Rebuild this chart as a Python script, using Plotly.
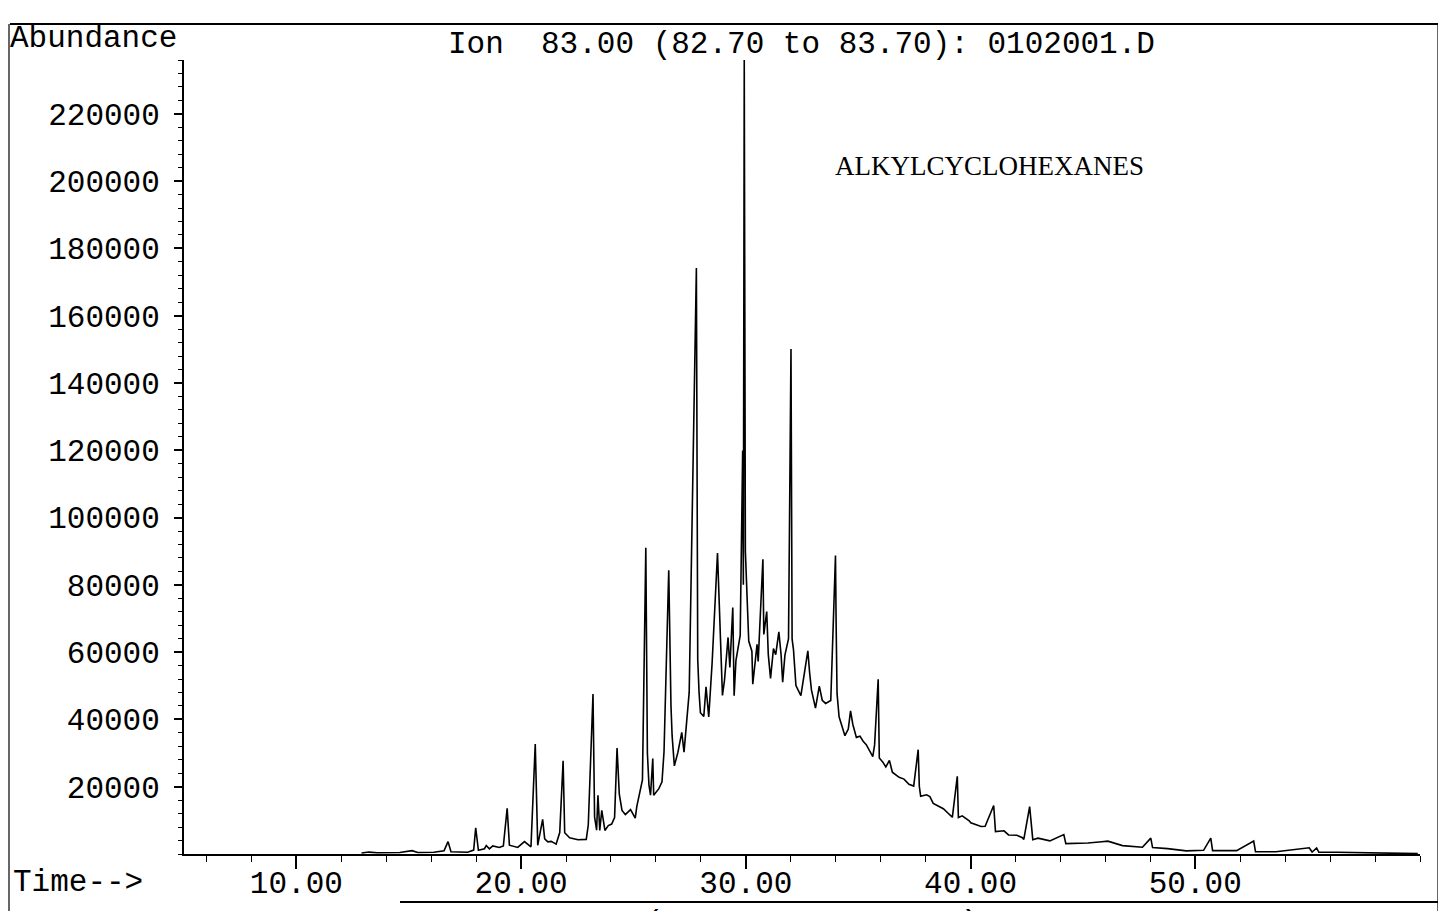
import plotly.graph_objects as go

# ---------------- data ----------------
time_min = [
    12.90, 13.23, 13.60, 14.06, 14.60, 15.15, 15.40, 16.12, 16.57, 16.75, 16.88,
    17.62, 17.89, 17.98, 18.10, 18.37, 18.45, 18.59, 18.74, 19.03, 19.21, 19.38,
    19.48, 19.85, 20.15, 20.44, 20.63, 20.74, 20.96, 21.05, 21.19, 21.34, 21.56,
    21.72, 21.87, 21.94, 22.16, 22.53, 22.90, 22.99, 23.20, 23.27, 23.36, 23.42,
    23.50, 23.59, 23.73, 23.88, 24.03, 24.16, 24.27, 24.37, 24.49, 24.64, 24.87,
    25.08, 25.15, 25.40, 25.55, 25.62, 25.69, 25.76, 25.86, 25.90, 26.13, 26.27,
    26.36, 26.57, 26.62, 26.67, 26.72, 26.82, 26.98, 27.15, 27.25, 27.38, 27.48,
    27.80, 27.86, 27.92, 27.98, 28.13, 28.23, 28.35, 28.50, 28.74, 28.82, 28.90,
    28.96, 29.05, 29.21, 29.29, 29.42, 29.48, 29.56, 29.75, 29.86, 29.89, 29.93,
    29.98, 30.05, 30.13, 30.27, 30.31, 30.50, 30.55, 30.76, 30.80, 30.93, 31.00,
    31.10, 31.23, 31.33, 31.47, 31.57, 31.64, 31.74, 31.90, 32.01, 32.06, 32.12,
    32.18, 32.23, 32.45, 32.61, 32.76, 32.84, 32.92, 33.10, 33.27, 33.40, 33.55,
    33.78, 33.86, 33.99, 34.02, 34.06, 34.15, 34.27, 34.41, 34.56, 34.66, 34.76,
    34.92, 35.08, 35.22, 35.36, 35.51, 35.65, 35.73, 35.89, 35.94, 36.09, 36.23,
    36.39, 36.52, 36.82, 37.04, 37.26, 37.47, 37.67, 37.72, 37.78, 38.04, 38.19,
    38.34, 38.67, 38.79, 39.19, 39.41, 39.46, 39.63, 39.94, 40.01, 40.47, 40.65,
    41.03, 41.11, 41.49, 41.69, 42.06, 42.31, 42.37, 42.63, 42.77, 43.00, 43.53,
    44.15, 44.24, 44.53, 45.22, 45.84, 46.11, 46.76, 47.65, 48.02, 48.10, 48.77,
    49.60, 50.37, 50.69, 50.77, 51.84, 52.60, 52.68, 53.59, 55.07, 55.20, 55.40,
    55.50, 56.33, 59.90,
]

abundance = [
    300, 570, 350, 320, 450, 1000, 450, 510, 930, 3670, 660,
    520, 1150, 7800, 1110, 1570, 2530, 1520, 2390, 1940, 2380, 13580,
    2630, 1960, 3690, 2140, 32700, 2590, 10290, 4530, 3620, 3760, 2940,
    6360, 27680, 6330, 4790, 4240, 4350, 8620, 47580, 11030, 7060, 17460,
    7030, 12960, 6990, 8440, 8890, 10860, 31470, 17760, 12950, 11750, 13200,
    10680, 14150, 22000, 91000, 30000, 20480, 17490, 28390, 17460, 19410, 21460,
    30380, 84330, 60110, 44030, 35170, 26210, 30260, 36180, 30270, 40010, 48030,
    174140, 57810, 47960, 41980, 40850, 49670, 40710, 56760, 89470, 72490, 59670,
    47150, 51600, 64370, 55420, 73260, 47070, 57460, 65000, 119930, 80000, 236000,
    90000, 75230, 63300, 60290, 50460, 62330, 57260, 87590, 65250, 72080, 59260,
    52180, 61090, 59250, 66010, 59150, 51090, 59110, 64000, 150090, 63840, 60840,
    53080, 50080, 47060, 53880, 60400, 53830, 48760, 43360, 49880, 45690, 44760,
    45610, 64060, 88750, 67600, 47650, 40780, 38160, 35160, 37120, 42550, 38570,
    34670, 35030, 33510, 32500, 30480, 28960, 32430, 51960, 28520, 27380, 25870,
    27830, 24320, 22780, 22260, 20730, 20180, 31010, 20130, 17150, 17590, 17060,
    15030, 13990, 13460, 10910, 23070, 10860, 11330, 9870, 9260, 8190, 8240,
    14420, 6660, 6890, 5660, 5580, 4850, 4330, 14110, 4250, 4700, 3900,
    5770, 3080, 3110, 3270, 3660, 3810, 2490, 2020, 4710, 1900, 1600,
    940, 1100, 4710, 1000, 1000, 3830, 700, 650, 1860, 600, 1790,
    500, 500, 100,
]

x_tick_values = [10, 20, 30, 40, 50]
x_tick_labels = ["10.00", "20.00", "30.00", "40.00", "50.00"]
y_tick_values = [20000, 40000, 60000, 80000, 100000, 120000, 140000,
                 160000, 180000, 200000, 220000]
y_tick_labels = [str(v) for v in y_tick_values]

title_text = "Ion\u00a0 83.00 (82.70 to 83.70): 0102001.D"
next_title_text = "Ion 183.00 (182.70 to 183.70): 0102001.D"
label_text = "ALKYLCYCLOHEXANES"

# ---------------- layout geometry (figure pixels; page has an 8px body margin) ----
W, H = 1438, 903
L, R, T, B = 176, 1412, 52, 846          # plot-area edges in figure pixels
PW, PH = R - L, B - T


def px(x):
    return (x - L) / PW


def py(y):
    return (B - y) / PH


mono = "Liberation Mono, Courier New, monospace"
serif = "Liberation Serif, Times New Roman, serif"

fig = go.Figure()
fig.add_trace(go.Scatter(
    x=time_min, y=abundance, mode="lines",
    line=dict(color="black", width=1.6),
    hoverinfo="skip", showlegend=False,
))

fig.update_layout(
    width=W, height=H, autosize=False,
    margin=dict(l=L, r=W - R, t=T, b=H - B, pad=0),
    paper_bgcolor="white", plot_bgcolor="white",
    font=dict(family=mono, size=31, color="black"),
    showlegend=False,
)

fig.update_xaxes(
    range=[5, 60], showgrid=False, zeroline=False, automargin=False,
    showline=True, linecolor="black", linewidth=2,
    tickmode="array", tickvals=x_tick_values, ticktext=x_tick_labels,
    ticks="outside", ticklen=13, tickwidth=1.5, tickcolor="black",
    ticklabelstandoff=-13,
    tickfont=dict(family=mono, size=31, color="black"),
    minor=dict(tickmode="linear", tick0=0, dtick=2, ticks="outside",
               ticklen=6, tickwidth=1.2, tickcolor="black", showgrid=False),
)
fig.update_yaxes(
    range=[0, 236000], showgrid=False, zeroline=False, automargin=False,
    showline=True, linecolor="black", linewidth=2,
    tickmode="array", tickvals=y_tick_values, ticktext=y_tick_labels,
    ticks="outside", ticklen=8, tickwidth=1.5, tickcolor="black",
    ticklabelstandoff=8,
    tickfont=dict(family=mono, size=31, color="black"),
    minor=dict(tickmode="linear", tick0=0, dtick=4000, ticks="outside",
               ticklen=4, tickwidth=1.2, tickcolor="black", showgrid=False),
)

ann = [
    dict(text=title_text, x=px(793), y=py(36), xanchor="center", yanchor="middle",
         font=dict(family=mono, size=31)),
    dict(text="Abundance", x=px(0), y=py(31), xanchor="left", yanchor="middle",
         font=dict(family=mono, size=31)),
    dict(text=label_text, x=px(981), y=py(158), xanchor="center", yanchor="middle",
         font=dict(family=serif, size=27)),
    dict(text="Time-->", x=px(3), y=py(874), xanchor="left", yanchor="middle",
         font=dict(family=mono, size=31)),
    dict(text="Vial Number:", x=px(0), y=py(-12), xanchor="left", yanchor="middle",
         font=dict(family=mono, size=31)),
    dict(text=next_title_text, x=px(804), y=py(896), xanchor="center", yanchor="top",
         font=dict(family=mono, size=31)),
]
for a in ann:
    a.update(xref="paper", yref="paper", showarrow=False)
fig.update_layout(annotations=ann)

frame = [
    (2, 16, 1438, 16, 2),        # header rule
    (392, 894, 1438, 894, 2),    # next panel rule
    (1, 16, 1, 903, 1.2),        # left page border
    (1430, 16, 1430, 903, 1.2),  # right page border
]
fig.update_layout(shapes=[
    dict(type="line", xref="paper", yref="paper",
         x0=px(x0), y0=py(y0), x1=px(x1), y1=py(y1),
         line=dict(color="black", width=w))
    for (x0, y0, x1, y1, w) in frame
])

fig.write_html("out.html", config={"displayModeBar": False})
